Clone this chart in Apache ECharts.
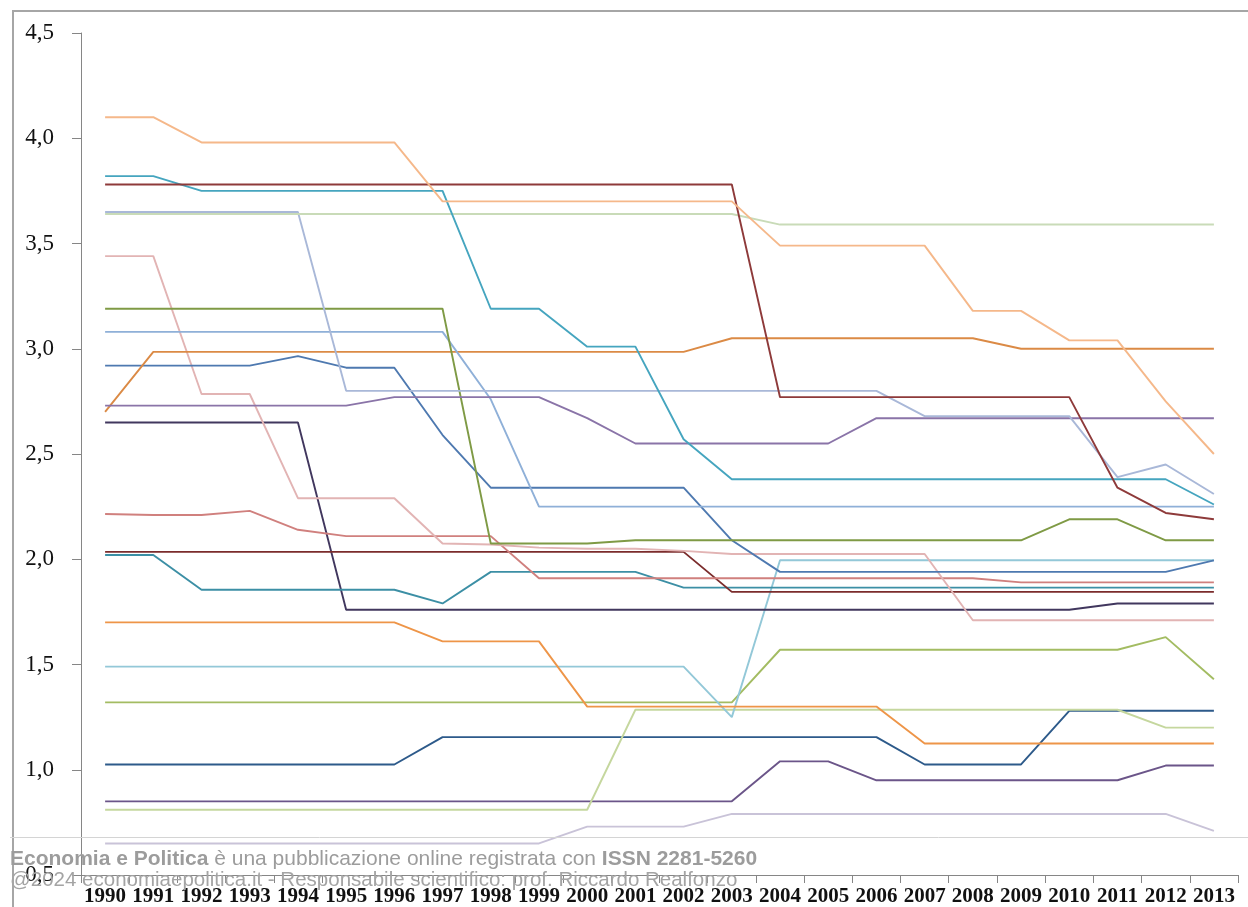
<!DOCTYPE html>
<html>
<head>
<meta charset="utf-8">
<script src="https://cdn.jsdelivr.net/npm/echarts@6/dist/echarts.min.js"></script>
<style>
html,body{margin:0;padding:0;background:#fff;}
#chart{width:1248px;height:907px;}
</style>
</head>
<body>
<div id="chart"></div>
<script>
const years = ['1990','1991','1992','1993','1994','1995','1996','1997','1998','1999','2000','2001','2002','2003','2004','2005','2006','2007','2008','2009','2010','2011','2012','2013'];
const yTickLabels = ['0,5','1,0','1,5','2,0','2,5','3,0','3,5','4,0','4,5'];

const serA = [4.10,4.10,3.98,3.98,3.98,3.98,3.98,3.70,3.70,3.70,3.70,3.70,3.70,3.70,3.49,3.49,3.49,3.49,3.18,3.18,3.04,3.04,2.75,2.50];
const serB = [3.78,3.78,3.78,3.78,3.78,3.78,3.78,3.78,3.78,3.78,3.78,3.78,3.78,3.78,2.77,2.77,2.77,2.77,2.77,2.77,2.77,2.34,2.22,2.19];
const serC = [3.82,3.82,3.75,3.75,3.75,3.75,3.75,3.75,3.19,3.19,3.01,3.01,2.57,2.38,2.38,2.38,2.38,2.38,2.38,2.38,2.38,2.38,2.38,2.26];
const serD = [3.64,3.64,3.64,3.64,3.64,3.64,3.64,3.64,3.64,3.64,3.64,3.64,3.64,3.64,3.59,3.59,3.59,3.59,3.59,3.59,3.59,3.59,3.59,3.59];
const serE = [3.65,3.65,3.65,3.65,3.65,2.80,2.80,2.80,2.80,2.80,2.80,2.80,2.80,2.80,2.80,2.80,2.80,2.68,2.68,2.68,2.68,2.39,2.45,2.31];
const serF = [2.73,2.73,2.73,2.73,2.73,2.73,2.77,2.77,2.77,2.77,2.67,2.55,2.55,2.55,2.55,2.55,2.67,2.67,2.67,2.67,2.67,2.67,2.67,2.67];
const serG = [3.19,3.19,3.19,3.19,3.19,3.19,3.19,3.19,2.075,2.075,2.075,2.09,2.09,2.09,2.09,2.09,2.09,2.09,2.09,2.09,2.19,2.19,2.09,2.09];
const serH = [3.08,3.08,3.08,3.08,3.08,3.08,3.08,3.08,2.76,2.25,2.25,2.25,2.25,2.25,2.25,2.25,2.25,2.25,2.25,2.25,2.25,2.25,2.25,2.25];
const serI = [2.70,2.985,2.985,2.985,2.985,2.985,2.985,2.985,2.985,2.985,2.985,2.985,2.985,3.05,3.05,3.05,3.05,3.05,3.05,3.00,3.00,3.00,3.00,3.00];
const serJ = [2.92,2.92,2.92,2.92,2.965,2.91,2.91,2.59,2.34,2.34,2.34,2.34,2.34,2.09,1.94,1.94,1.94,1.94,1.94,1.94,1.94,1.94,1.94,1.995];
const serK = [3.44,3.44,2.785,2.785,2.29,2.29,2.29,2.075,2.07,2.055,2.05,2.05,2.04,2.025,2.025,2.025,2.025,2.025,1.71,1.71,1.71,1.71,1.71,1.71];
const serL = [2.215,2.21,2.21,2.23,2.14,2.11,2.11,2.11,2.11,1.91,1.91,1.91,1.91,1.91,1.91,1.91,1.91,1.91,1.91,1.89,1.89,1.89,1.89,1.89];
const serM = [2.035,2.035,2.035,2.035,2.035,2.035,2.035,2.035,2.035,2.035,2.035,2.035,2.035,1.845,1.845,1.845,1.845,1.845,1.845,1.845,1.845,1.845,1.845,1.845];
const serN = [2.02,2.02,1.855,1.855,1.855,1.855,1.855,1.79,1.94,1.94,1.94,1.94,1.865,1.865,1.865,1.865,1.865,1.865,1.865,1.865,1.865,1.865,1.865,1.865];
const serO = [2.65,2.65,2.65,2.65,2.65,1.76,1.76,1.76,1.76,1.76,1.76,1.76,1.76,1.76,1.76,1.76,1.76,1.76,1.76,1.76,1.76,1.79,1.79,1.79];
const serP = [1.70,1.70,1.70,1.70,1.70,1.70,1.70,1.61,1.61,1.61,1.30,1.30,1.30,1.30,1.30,1.30,1.30,1.125,1.125,1.125,1.125,1.125,1.125,1.125];
const serQ = [1.49,1.49,1.49,1.49,1.49,1.49,1.49,1.49,1.49,1.49,1.49,1.49,1.49,1.25,1.995,1.995,1.995,1.995,1.995,1.995,1.995,1.995,1.995,1.995];
const serR = [1.32,1.32,1.32,1.32,1.32,1.32,1.32,1.32,1.32,1.32,1.32,1.32,1.32,1.32,1.57,1.57,1.57,1.57,1.57,1.57,1.57,1.57,1.63,1.43];
const serS = [0.81,0.81,0.81,0.81,0.81,0.81,0.81,0.81,0.81,0.81,0.81,1.285,1.285,1.285,1.285,1.285,1.285,1.285,1.285,1.285,1.285,1.285,1.20,1.20];
const serT = [1.025,1.025,1.025,1.025,1.025,1.025,1.025,1.155,1.155,1.155,1.155,1.155,1.155,1.155,1.155,1.155,1.155,1.025,1.025,1.025,1.28,1.28,1.28,1.28];
const serU = [0.85,0.85,0.85,0.85,0.85,0.85,0.85,0.85,0.85,0.85,0.85,0.85,0.85,0.85,1.04,1.04,0.95,0.95,0.95,0.95,0.95,0.95,1.02,1.02];
const serV = [0.65,0.65,0.65,0.65,0.65,0.65,0.65,0.65,0.65,0.65,0.73,0.73,0.73,0.79,0.79,0.79,0.79,0.79,0.79,0.79,0.79,0.79,0.79,0.71];

const seriesList = [
  [serV, '#C9C3D8'], [serU, '#6B5589'], [serT, '#2D5A8A'], [serS, '#C5D79E'],
  [serR, '#A3BC62'], [serQ, '#93C8D8'], [serP, '#EE9548'], [serO, '#41375E'],
  [serN, '#3C8FA5'], [serM, '#7B2C2C'], [serL, '#D0807E'], [serK, '#E2B4B4'],
  [serJ, '#4E79B0'], [serI, '#DB8A45'], [serH, '#8FB0D8'], [serG, '#7F9A45'],
  [serF, '#8A74A8'], [serE, '#A9B8D8'], [serD, '#C9DBB8'], [serC, '#45A5BF'],
  [serB, '#8E3A3A'], [serA, '#F5B88A']
];

const chart = echarts.init(document.getElementById('chart'), null, {renderer: 'canvas'});
chart.setOption({
  animation: false,
  backgroundColor: '#ffffff',
  grid: {left: 81, right: 10, top: 33, bottom: 31, containLabel: false},
  xAxis: {
    type: 'category',
    data: years,
    boundaryGap: true,
    axisLine: {lineStyle: {color: '#868686', width: 1}},
    axisTick: {show: true, length: 8, inside: false, lineStyle: {color: '#868686'}},
    axisLabel: {
      interval: 0, margin: 11, color: '#111',
      fontFamily: 'Liberation Serif', fontSize: 21, fontWeight: 'bold'
    },
    splitLine: {show: false}
  },
  yAxis: {
    type: 'value',
    min: 0.5, max: 4.5, interval: 0.5,
    axisLine: {show: true, lineStyle: {color: '#868686', width: 1}},
    axisTick: {show: true, length: 9, inside: false, lineStyle: {color: '#868686'}},
    axisLabel: {
      margin: 27, color: '#111',
      fontFamily: 'Liberation Serif', fontSize: 23,
      formatter: function (v) { return yTickLabels[Math.round((v - 0.5) / 0.5)]; }
    },
    splitLine: {show: false}
  },
  series: seriesList.map(function (s) {
    return {
      type: 'line', data: s[0], showSymbol: false, symbol: 'none',
      lineStyle: {color: s[1], width: 1.9}, itemStyle: {color: s[1]},
      silent: true
    };
  }),
  graphic: [
    {type: 'rect', z: 100, silent: true, shape: {x: 13, y: 11, width: 1300, height: 1000},
     style: {fill: 'none', stroke: '#a6a6a6', lineWidth: 2}},
    {type: 'line', z: 100, silent: true, shape: {x1: 10, y1: 837.5, x2: 1248, y2: 837.5},
     style: {stroke: '#d4d4d4', lineWidth: 1}},
    {type: 'text', z: 101, silent: true, x: 10, y: 859,
     style: {
       text: '{b|Economia e Politica} è una pubblicazione online registrata con {b|ISSN 2281-5260}',
       fontFamily: 'Liberation Sans', fontSize: 21, fill: '#9c9c9c',
       verticalAlign: 'middle', align: 'left',
       rich: {b: {fontWeight: 'bold', fontFamily: 'Liberation Sans', fontSize: 21, fill: '#9c9c9c'}}
     }},
    {type: 'text', z: 101, silent: true, x: 10, y: 880,
     style: {
       text: '@2024 economiaepolitica.it - Responsabile scientifico: prof. Riccardo Realfonzo',
       fontFamily: 'Liberation Sans', fontSize: 20.5, fill: '#a4a4a4',
       verticalAlign: 'middle', align: 'left'
     }}
  ]
});
</script>
</body>
</html>
